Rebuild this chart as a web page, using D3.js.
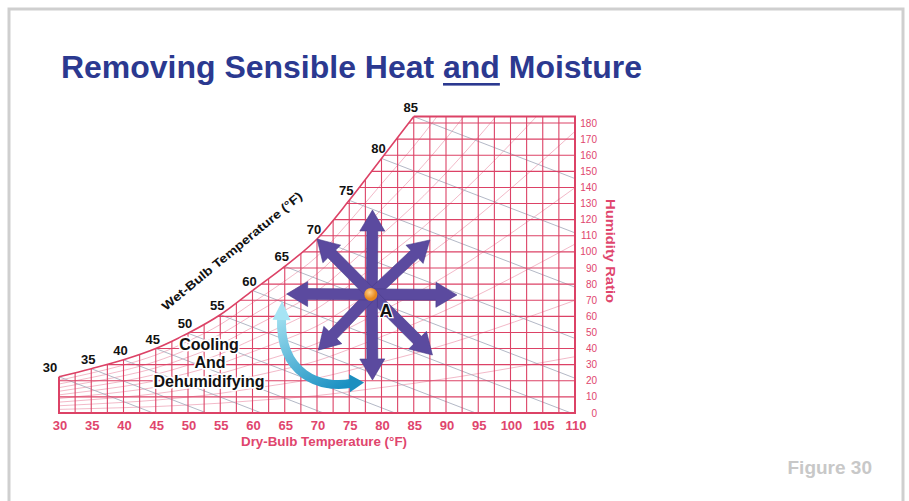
<!DOCTYPE html>
<html><head><meta charset="utf-8">
<script src="https://cdn.jsdelivr.net/npm/d3@7"></script>
<style>body{margin:0;background:#fff;} svg{display:block;font-family:"Liberation Sans",Arial,sans-serif;}</style>
</head><body><svg id="c" width="909" height="501"></svg>
<script>
// ---------- data ----------
const dryBulbTicks = [30,35,40,45,50,55,60,65,70,75,80,85,90,95,100,105,110];
const dryBulbGrid = [30,32.5,35,37.5,40,42.5,45,47.5,50,52.5,55,57.5,60,62.5,65,67.5,70,72.5,75,77.5,80,82.5,85,87.5,90,92.5,95,97.5,100,102.5,105,107.5,110];
const humidityTicks = [0,10,20,30,40,50,60,70,80,90,100,110,120,130,140,150,160,170,180];
const wetBulbTemps = [30,35,40,45,50,55,60,65,70,75,80,85];
const saturationHumidity = [22.5,27.5,33,40,49.5,61,76,91,108,132,158,184];
const wetBulbZeroDryBulb = [44.6,52.9,61.4,71,82.1,94.6,109.4,124,140,160.7,182.6,204.5];
const rhLevels = [0.1,0.2,0.3,0.4,0.5,0.6,0.7,0.8,0.9];
const pointA = [78.5,73.6];
const arrowTips = [[78.6,126],[87.5,107.4],[91.7,73.3],[87.9,36],[78.6,20.5],[70.2,39],[65.3,73.9],[70,108]];
const cyanArc = [[64.5,59],[64.2,24],[70.5,14.5],[75.5,18.5]];
const cyanTips = [[64.6,69.5],[77.3,19]];
const labelCooling = ["Cooling","And","Dehumidifying"];

// ---------- setup ----------
const svg = d3.select("#c");
const x = d3.scaleLinear().domain([30,110]).range([59,575]);
const y = d3.scaleLinear().domain([0,180]).range([413,123]);
const red = "#dc4266", pink = "#e0456d";
const topW = saturationHumidity[saturationHumidity.length-1];

// frame
svg.append("rect").attr("x",9).attr("y",9).attr("width",894).attr("height",520)
  .attr("fill","none").attr("stroke","#cfcfcf").attr("stroke-width",3);

// title
const title = svg.append("text").attr("x",61).attr("y",78)
  .attr("font-size",31).attr("font-weight","bold").attr("fill","#2b3990")
  .attr("textLength",581).attr("lengthAdjust","spacingAndGlyphs");
title.append("tspan").text("Removing Sensible Heat ");
title.append("tspan").text("and");
title.append("tspan").text(" Moisture");
try {
  const n0 = "Removing Sensible Heat ".length;
  const a = title.node().getExtentOfChar(n0), b = title.node().getExtentOfChar(n0+2);
  svg.append("rect").attr("x",a.x).attr("y",83).attr("width",b.x+b.width-a.x).attr("height",2.6).attr("fill","#2b3990");
} catch(e) {}

svg.append("text").attr("x",872).attr("y",474).attr("text-anchor","end")
  .attr("font-size",19).attr("font-weight","bold").attr("fill","#c8c8c8").text("Figure 30");

// defs
const defs = svg.append("defs");
const satPts = wetBulbTemps.map((t,i)=>[t,saturationHumidity[i]]);
const lineG = d3.line().x(d=>x(d[0])).y(d=>y(d[1]));
const satPath = lineG.curve(d3.curveMonotoneX)(satPts);
const clipD = satPath + `L${x(110)},${y(topW)}L${x(110)},${y(0)}L${x(30)},${y(0)}Z`;
defs.append("clipPath").attr("id","plot").append("path").attr("d",clipD);

const gPlot = svg.append("g").attr("clip-path","url(#plot)");

// RH curves
rhLevels.forEach(r=>{
  gPlot.append("path").attr("d", d3.line().x(d=>x(d[0])).y(d=>y(d[1])).curve(d3.curveMonotoneX)(satPts.map(p=>[p[0],p[1]*r]).concat([[110, topW*r*1.9]])))
    .attr("fill","none").attr("stroke","#ea8aa3").attr("stroke-width",0.8).attr("opacity",0.75);
});
// wet-bulb lines
wetBulbTemps.forEach((t,i)=>{
  gPlot.append("line").attr("x1",x(t)).attr("y1",y(saturationHumidity[i]))
    .attr("x2",x(wetBulbZeroDryBulb[i])).attr("y2",y(0))
    .attr("stroke","#aab0bf").attr("stroke-width",0.9);
});
// grid
gPlot.selectAll("line.v").data(dryBulbGrid).join("line").attr("class","v")
  .attr("x1",d=>x(d)).attr("x2",d=>x(d)).attr("y1",y(0)).attr("y2",y(topW))
  .attr("stroke",red).attr("stroke-width",1.1);
gPlot.selectAll("line.h").data(humidityTicks).join("line").attr("class","h")
  .attr("x1",x(30)).attr("x2",x(110)).attr("y1",d=>y(d)).attr("y2",d=>y(d))
  .attr("stroke",red).attr("stroke-width",1.1);

// borders & saturation curve
svg.append("path").attr("d", satPath).attr("fill","none").attr("stroke",red).attr("stroke-width",1.6);
svg.append("path").attr("d", `M${x(85)},${y(topW)}L${x(110)},${y(topW)}L${x(110)},${y(0)}L${x(30)},${y(0)}L${x(30)},${y(saturationHumidity[0])}`)
  .attr("fill","none").attr("stroke",red).attr("stroke-width",2);

// axis labels
svg.selectAll("text.xt").data(dryBulbTicks).join("text").attr("class","xt")
  .attr("x",d=>x(d)+1).attr("y",430).attr("text-anchor","middle")
  .attr("font-size",13).attr("font-weight","bold").attr("fill",pink).text(d=>d);
svg.append("text").attr("x",324).attr("y",446).attr("text-anchor","middle")
  .attr("font-size",12).attr("font-weight","bold").attr("fill",pink)
  .attr("textLength",166).attr("lengthAdjust","spacingAndGlyphs").text("Dry-Bulb Temperature (°F)");
svg.selectAll("text.yt").data(humidityTicks).join("text").attr("class","yt")
  .attr("x",597).attr("y",d=>y(d)).attr("dy","0.35em").attr("text-anchor","end")
  .attr("font-size",10).attr("fill",pink).text(d=>d);
svg.append("text").attr("transform","translate(611,251) rotate(90)").attr("text-anchor","middle")
  .attr("dy","0.35em").attr("font-size",13).attr("font-weight","bold").attr("fill",pink)
  .attr("textLength",104).attr("lengthAdjust","spacingAndGlyphs").text("Humidity Ratio");

// wet bulb labels
svg.selectAll("text.wb").data(wetBulbTemps).join("text").attr("class","wb")
  .attr("x",(d,i)=>x(d)-(i===0?9:3)).attr("y",(d,i)=>y(saturationHumidity[i])-5)
  .attr("text-anchor","middle").attr("font-size",13).attr("font-weight","bold").attr("fill","#111").text(d=>d);
svg.append("text").attr("transform","translate(232,251) rotate(-39.6)").attr("text-anchor","middle")
  .attr("dy","0.35em").attr("font-size",12).attr("font-weight","bold").attr("fill","#111")
  .attr("textLength",178).attr("lengthAdjust","spacingAndGlyphs").text("Wet-Bulb Temperature (°F)");

// cooling text
const ct = svg.append("g").attr("font-weight","bold").attr("font-size",16).attr("fill","#111")
  .attr("text-anchor","middle").attr("stroke","#fff").attr("stroke-width",3.5).attr("paint-order","stroke").attr("stroke-linejoin","round");
[[209,350],[210,368],[209,387]].forEach((p,i)=>ct.append("text").attr("x",p[0]).attr("y",p[1]).text(labelCooling[i]));

// cyan arrow
const cg = defs.append("linearGradient").attr("id","cy").attr("gradientUnits","userSpaceOnUse")
  .attr("x1",275).attr("y1",300).attr("x2",330).attr("y2",395);
cg.append("stop").attr("offset",0).attr("stop-color","#b6ecf7");
cg.append("stop").attr("offset",1).attr("stop-color","#1a90c2");
const P = cyanArc.map(d=>[x(d[0]),y(d[1])]);
svg.append("path").attr("d",`M${P[0]}C${P[1]} ${P[2]} ${P[3]}`)
  .attr("fill","none").attr("stroke","url(#cy)").attr("stroke-width",9);
function head(base, tip, hw, g, fill){
  const dx=tip[0]-base[0], dy=tip[1]-base[1], L=Math.hypot(dx,dy), nx=-dy/L, ny=dx/L;
  g.append("path").attr("d",`M${tip}L${base[0]+nx*hw},${base[1]+ny*hw}L${base[0]-nx*hw},${base[1]-ny*hw}Z`).attr("fill",fill);
}
const T0=[x(cyanTips[0][0]),y(cyanTips[0][1])], T1=[x(cyanTips[1][0]),y(cyanTips[1][1])];
head([P[0][0],P[0][1]+2],T0,9,svg,"#a6e4f4");
head([P[3][0]-3,P[3][1]],T1,9,svg,"#1b8fbf");

// purple arrows
const c=[x(pointA[0]),y(pointA[1])];
const pg = svg.append("g");
arrowTips.forEach(t=>{
  const tp=[x(t[0]),y(t[1])];
  const dx=tp[0]-c[0], dy=tp[1]-c[1], L=Math.hypot(dx,dy), ux=dx/L, uy=dy/L, nx=-uy, ny=ux;
  const hl=21, sw=5.5, hw=12.5;
  const b=[tp[0]-ux*hl, tp[1]-uy*hl];
  const pts=[[c[0]+nx*sw,c[1]+ny*sw],[b[0]+nx*sw,b[1]+ny*sw],[b[0]+nx*hw,b[1]+ny*hw],tp,[b[0]-nx*hw,b[1]-ny*hw],[b[0]-nx*sw,b[1]-ny*sw],[c[0]-nx*sw,c[1]-ny*sw]];
  pg.append("path").attr("d","M"+pts.join("L")+"Z").attr("fill","#5b4a9f").attr("stroke","#4a3b8a").attr("stroke-width",0.6);
});
const rg = defs.append("radialGradient").attr("id","og").attr("cx","40%").attr("cy","35%");
rg.append("stop").attr("offset",0).attr("stop-color","#ffd08a");
rg.append("stop").attr("offset",1).attr("stop-color","#e8881c");
svg.append("circle").attr("cx",c[0]-1).attr("cy",c[1]).attr("r",6.5).attr("fill","url(#og)");
svg.append("text").attr("x",386).attr("y",317).attr("text-anchor","middle").attr("font-size",18)
  .attr("font-weight","bold").attr("fill","#111").attr("stroke","#fff").attr("stroke-width",2.5)
  .attr("paint-order","stroke").text("A");
</script></body></html>
